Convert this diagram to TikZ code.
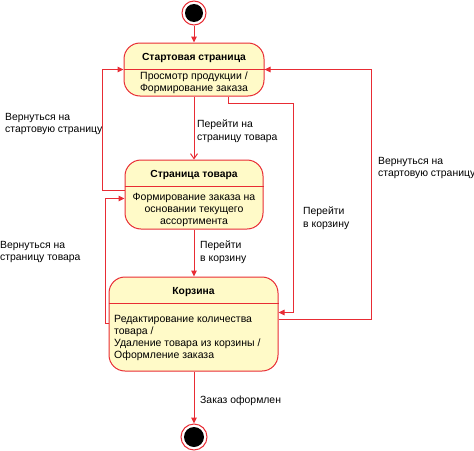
\documentclass[tikz,border=0pt]{standalone}
\usepackage{fontspec}
\setmainfont{Liberation Sans}
\usepackage{tikz}
\usetikzlibrary{arrows.meta}

\definecolor{umlred}{RGB}{232,44,52}
\definecolor{umlfill}{RGB}{255,250,200}

\tikzset{
  state/.style={draw=umlred, fill=umlfill, rounded corners=16pt, line width=1pt, inner sep=0pt},
  divider/.style={draw=umlred, line width=1pt},
  ttl/.style={font=\bfseries\fontsize{10.3}{12}\selectfont, inner sep=0pt},
  body/.style={font=\fontsize{10.5}{12}\selectfont, align=center, inner sep=0pt},
  lbl/.style={font=\fontsize{10.4}{12.5}\selectfont, align=left, anchor=north west, inner sep=0pt},
  arr/.style={draw=umlred, line width=1pt, -{Triangle[length=6pt,width=5.5pt]}},
  arropen/.style={draw=umlred, line width=1pt, -{Straight Barb[length=5pt,width=7pt]}}
}

\begin{document}
\begin{tikzpicture}[x=1pt, y=-1pt]
\useasboundingbox (0,0) rectangle (474,450);

\node[circle, draw=umlred, fill=white, line width=1pt, minimum size=24pt, inner sep=0pt] (init) at (194,13) {};
\fill[black] (init.center) circle (9pt);

\node[state, minimum width=140pt, minimum height=53pt] (st1) at (194,69.5) {};
\draw[divider] (st1.west) -- (st1.east);
\node[ttl] (st1t) at (194,58) {Стартовая страница};
\node[body] (st1b) at (194,83) {Просмотр продукции /\\Формирование заказа};

\node[state, minimum width=138pt, minimum height=69pt] (st2) at (194,194.5) {};
\draw[divider] (st2.west |- 0,186.5) -- (st2.east |- 0,186.5);
\node[ttl] (st2t) at (194,175) {Страница товара};
\node[body] (st2b) at (194,209.5) {Формирование заказа на\\основании текущего\\ассортимента};

\node[state, minimum width=169pt, minimum height=94pt] (st3) at (193.5,324) {};
\draw[divider] (st3.west |- 0,303.5) -- (st3.east |- 0,303.5);
\node[ttl] (st3t) at (193.5,292) {Корзина};
\node[body, align=left, anchor=west] (st3b) at (114,338) {Редактирование количества\\товара /\\Удаление товара из корзины /\\Оформление заказа};

\node[circle, draw=umlred, fill=white, line width=1pt, minimum size=26pt, inner sep=0pt] (fin) at (194,437) {};
\fill[black] (fin.center) circle (10pt);

\draw[arr] (init) -- (st1);
\draw[arropen] (st1) -- (st2);
\draw[arr] (st2.south) -- (st2.south |- st3.north);
\draw[arr] (st3.south -| fin) -- (fin);

\draw[arr] ([xshift=34.5pt]st1.south) |- (293.5,103.5) |- (st3.east |- 0,312.5);
\draw[arr] (st3.east |- 0,319.5) -| (371.5,69.5) -- (st1.east);
\draw[arr] (st2.west |- 0,190.5) -| (102.5,69.5) -- (st1.west);
\draw[arr] (st3.west |- 0,323.5) -| (105.5,198.5) -- (st2.west |- 0,198.5);

\node[lbl] (l1) at (197,120) {Перейти на\\страницу товара};
\node[lbl] (l2) at (5,113) {Вернуться на\\стартовую страницу};
\node[lbl] (l3) at (303,207) {Перейти\\в корзину};
\node[lbl] (l4) at (378,157) {Вернуться на\\стартовую страницу};
\node[lbl] (l5) at (200,241) {Перейти\\в корзину};
\node[lbl] (l6) at (0,241) {Вернуться на\\страницу товара};
\node[lbl] (l7) at (200,396) {Заказ оформлен};
\end{tikzpicture}
\end{document}
